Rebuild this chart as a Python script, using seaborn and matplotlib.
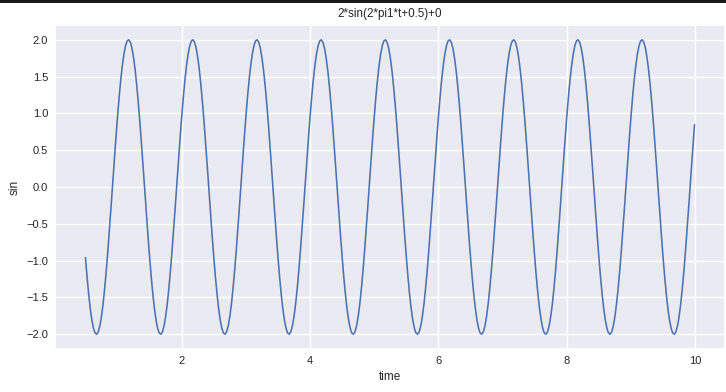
import matplotlib
matplotlib.use("Agg")
import matplotlib.pyplot as plt
import seaborn as sns
import pandas as pd
from matplotlib.patches import Rectangle

title = "2*sin(2*pi1*t+0.5)+0"

time = [
    0.5, 0.525, 0.55, 0.575, 0.6, 0.625, 0.65, 0.675, 0.7, 0.725, 0.75, 0.775, 0.8, 0.825, 0.85, 0.875, 0.9, 0.925, 0.95, 0.975,
    1.0, 1.025, 1.05, 1.075, 1.1, 1.125, 1.15, 1.175, 1.2, 1.225, 1.25, 1.275, 1.3, 1.325, 1.35, 1.375, 1.4, 1.425, 1.45, 1.475,
    1.5, 1.525, 1.55, 1.575, 1.6, 1.625, 1.65, 1.675, 1.7, 1.725, 1.75, 1.775, 1.8, 1.825, 1.85, 1.875, 1.9, 1.925, 1.95, 1.975,
    2.0, 2.025, 2.05, 2.075, 2.1, 2.125, 2.15, 2.175, 2.2, 2.225, 2.25, 2.275, 2.3, 2.325, 2.35, 2.375, 2.4, 2.425, 2.45, 2.475,
    2.5, 2.525, 2.55, 2.575, 2.6, 2.625, 2.65, 2.675, 2.7, 2.725, 2.75, 2.775, 2.8, 2.825, 2.85, 2.875, 2.9, 2.925, 2.95, 2.975,
    3.0, 3.025, 3.05, 3.075, 3.1, 3.125, 3.15, 3.175, 3.2, 3.225, 3.25, 3.275, 3.3, 3.325, 3.35, 3.375, 3.4, 3.425, 3.45, 3.475,
    3.5, 3.525, 3.55, 3.575, 3.6, 3.625, 3.65, 3.675, 3.7, 3.725, 3.75, 3.775, 3.8, 3.825, 3.85, 3.875, 3.9, 3.925, 3.95, 3.975,
    4.0, 4.025, 4.05, 4.075, 4.1, 4.125, 4.15, 4.175, 4.2, 4.225, 4.25, 4.275, 4.3, 4.325, 4.35, 4.375, 4.4, 4.425, 4.45, 4.475,
    4.5, 4.525, 4.55, 4.575, 4.6, 4.625, 4.65, 4.675, 4.7, 4.725, 4.75, 4.775, 4.8, 4.825, 4.85, 4.875, 4.9, 4.925, 4.95, 4.975,
    5.0, 5.025, 5.05, 5.075, 5.1, 5.125, 5.15, 5.175, 5.2, 5.225, 5.25, 5.275, 5.3, 5.325, 5.35, 5.375, 5.4, 5.425, 5.45, 5.475,
    5.5, 5.525, 5.55, 5.575, 5.6, 5.625, 5.65, 5.675, 5.7, 5.725, 5.75, 5.775, 5.8, 5.825, 5.85, 5.875, 5.9, 5.925, 5.95, 5.975,
    6.0, 6.025, 6.05, 6.075, 6.1, 6.125, 6.15, 6.175, 6.2, 6.225, 6.25, 6.275, 6.3, 6.325, 6.35, 6.375, 6.4, 6.425, 6.45, 6.475,
    6.5, 6.525, 6.55, 6.575, 6.6, 6.625, 6.65, 6.675, 6.7, 6.725, 6.75, 6.775, 6.8, 6.825, 6.85, 6.875, 6.9, 6.925, 6.95, 6.975,
    7.0, 7.025, 7.05, 7.075, 7.1, 7.125, 7.15, 7.175, 7.2, 7.225, 7.25, 7.275, 7.3, 7.325, 7.35, 7.375, 7.4, 7.425, 7.45, 7.475,
    7.5, 7.525, 7.55, 7.575, 7.6, 7.625, 7.65, 7.675, 7.7, 7.725, 7.75, 7.775, 7.8, 7.825, 7.85, 7.875, 7.9, 7.925, 7.95, 7.975,
    8.0, 8.025, 8.05, 8.075, 8.1, 8.125, 8.15, 8.175, 8.2, 8.225, 8.25, 8.275, 8.3, 8.325, 8.35, 8.375, 8.4, 8.425, 8.45, 8.475,
    8.5, 8.525, 8.55, 8.575, 8.6, 8.625, 8.65, 8.675, 8.7, 8.725, 8.75, 8.775, 8.8, 8.825, 8.85, 8.875, 8.9, 8.925, 8.95, 8.975,
    9.0, 9.025, 9.05, 9.075, 9.1, 9.125, 9.15, 9.175, 9.2, 9.225, 9.25, 9.275, 9.3, 9.325, 9.35, 9.375, 9.4, 9.425, 9.45, 9.475,
    9.5, 9.525, 9.55, 9.575, 9.6, 9.625, 9.65, 9.675, 9.7, 9.725, 9.75, 9.775, 9.8, 9.825, 9.85, 9.875, 9.9, 9.925, 9.95, 9.975,
    9.99,
]

sin_values = [
    -0.959, -1.222, -1.455, -1.651, -1.807, -1.919, -1.984, -1.999, -1.966, -1.884, -1.755, -1.584, -1.373, -1.129, -0.856, -0.563, -0.256, 0.058, 0.370, 0.673,
    0.959, 1.222, 1.455, 1.651, 1.807, 1.919, 1.984, 1.999, 1.966, 1.884, 1.755, 1.584, 1.373, 1.129, 0.856, 0.563, 0.256, -0.058, -0.370, -0.673,
    -0.959, -1.222, -1.455, -1.651, -1.807, -1.919, -1.984, -1.999, -1.966, -1.884, -1.755, -1.584, -1.373, -1.129, -0.856, -0.563, -0.256, 0.058, 0.370, 0.673,
    0.959, 1.222, 1.455, 1.651, 1.807, 1.919, 1.984, 1.999, 1.966, 1.884, 1.755, 1.584, 1.373, 1.129, 0.856, 0.563, 0.256, -0.058, -0.370, -0.673,
    -0.959, -1.222, -1.455, -1.651, -1.807, -1.919, -1.984, -1.999, -1.966, -1.884, -1.755, -1.584, -1.373, -1.129, -0.856, -0.563, -0.256, 0.058, 0.370, 0.673,
    0.959, 1.222, 1.455, 1.651, 1.807, 1.919, 1.984, 1.999, 1.966, 1.884, 1.755, 1.584, 1.373, 1.129, 0.856, 0.563, 0.256, -0.058, -0.370, -0.673,
    -0.959, -1.222, -1.455, -1.651, -1.807, -1.919, -1.984, -1.999, -1.966, -1.884, -1.755, -1.584, -1.373, -1.129, -0.856, -0.563, -0.256, 0.058, 0.370, 0.673,
    0.959, 1.222, 1.455, 1.651, 1.807, 1.919, 1.984, 1.999, 1.966, 1.884, 1.755, 1.584, 1.373, 1.129, 0.856, 0.563, 0.256, -0.058, -0.370, -0.673,
    -0.959, -1.222, -1.455, -1.651, -1.807, -1.919, -1.984, -1.999, -1.966, -1.884, -1.755, -1.584, -1.373, -1.129, -0.856, -0.563, -0.256, 0.058, 0.370, 0.673,
    0.959, 1.222, 1.455, 1.651, 1.807, 1.919, 1.984, 1.999, 1.966, 1.884, 1.755, 1.584, 1.373, 1.129, 0.856, 0.563, 0.256, -0.058, -0.370, -0.673,
    -0.959, -1.222, -1.455, -1.651, -1.807, -1.919, -1.984, -1.999, -1.966, -1.884, -1.755, -1.584, -1.373, -1.129, -0.856, -0.563, -0.256, 0.058, 0.370, 0.673,
    0.959, 1.222, 1.455, 1.651, 1.807, 1.919, 1.984, 1.999, 1.966, 1.884, 1.755, 1.584, 1.373, 1.129, 0.856, 0.563, 0.256, -0.058, -0.370, -0.673,
    -0.959, -1.222, -1.455, -1.651, -1.807, -1.919, -1.984, -1.999, -1.966, -1.884, -1.755, -1.584, -1.373, -1.129, -0.856, -0.563, -0.256, 0.058, 0.370, 0.673,
    0.959, 1.222, 1.455, 1.651, 1.807, 1.919, 1.984, 1.999, 1.966, 1.884, 1.755, 1.584, 1.373, 1.129, 0.856, 0.563, 0.256, -0.058, -0.370, -0.673,
    -0.959, -1.222, -1.455, -1.651, -1.807, -1.919, -1.984, -1.999, -1.966, -1.884, -1.755, -1.584, -1.373, -1.129, -0.856, -0.563, -0.256, 0.058, 0.370, 0.673,
    0.959, 1.222, 1.455, 1.651, 1.807, 1.919, 1.984, 1.999, 1.966, 1.884, 1.755, 1.584, 1.373, 1.129, 0.856, 0.563, 0.256, -0.058, -0.370, -0.673,
    -0.959, -1.222, -1.455, -1.651, -1.807, -1.919, -1.984, -1.999, -1.966, -1.884, -1.755, -1.584, -1.373, -1.129, -0.856, -0.563, -0.256, 0.058, 0.370, 0.673,
    0.959, 1.222, 1.455, 1.651, 1.807, 1.919, 1.984, 1.999, 1.966, 1.884, 1.755, 1.584, 1.373, 1.129, 0.856, 0.563, 0.256, -0.058, -0.370, -0.673,
    -0.959, -1.222, -1.455, -1.651, -1.807, -1.919, -1.984, -1.999, -1.966, -1.884, -1.755, -1.584, -1.373, -1.129, -0.856, -0.563, -0.256, 0.058, 0.370, 0.673,
    0.847,
]

xticks = [2, 4, 6, 8, 10]
yticks = [-2.0, -1.5, -1.0, -0.5, 0.0, 0.5, 1.0, 1.5, 2.0]

df = pd.DataFrame({"time": time, "sin": sin_values})

sns.set_theme(style="darkgrid")
plt.rcParams["font.family"] = ["Liberation Sans", "DejaVu Sans"]

W, H = 726, 392
fig = plt.figure(figsize=(W / 100, H / 100), dpi=100)
ax = fig.add_axes([55 / W, 1 - 349 / H, (725 - 55) / W, (349 - 25) / H])

sns.lineplot(data=df, x="time", y="sin", ax=ax, color="#4c72b0", linewidth=1.15)

ax.set_xticks(xticks)
ax.set_yticks(yticks)
ax.set_xticklabels([str(v) for v in xticks], fontsize=8, color="#262626")
ax.set_yticklabels([f"{v:.1f}".replace("-", "\u2212") for v in yticks], fontsize=8, color="#262626")
ax.tick_params(axis="both", length=0, pad=5)
ax.set_xlabel("time", fontsize=8.5, color="#262626", labelpad=4)
ax.set_ylabel("sin", fontsize=8.5, color="#262626", labelpad=4)
ax.set_title(title, fontsize=8.4, color="#262626", pad=6)
ax.set_ylim(-2.2, 2.2)

fig.patches.append(Rectangle((0, 1 - 3 / H), 1, 3 / H, transform=fig.transFigure,
                             facecolor="#1a1a1a", edgecolor="none", zorder=10))

fig.savefig("out.png", dpi=100)
